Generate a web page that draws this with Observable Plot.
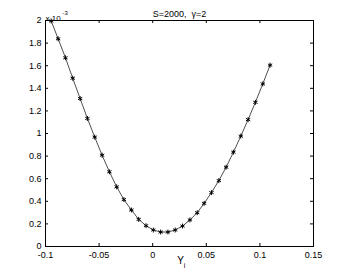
<!DOCTYPE html>
<html>
<head>
<meta charset="utf-8">
<script src="https://cdn.jsdelivr.net/npm/d3@7"></script>
<script src="https://cdn.jsdelivr.net/npm/@observablehq/plot@0.6"></script>
<style>
  html, body { margin: 0; padding: 0; background: #fff; }
  svg { font-family: "Liberation Sans", Arial, Helvetica, sans-serif; }
</style>
</head>
<body>
<div id="chart"></div>
<script>
// Data (y in units of 1e-3)
const yiValues = [-0.0947, -0.0882, -0.0814, -0.0746, -0.0677, -0.0609, -0.0541, -0.0472, -0.0404, -0.0336,
  -0.0269, -0.0199, -0.0131, -0.0062, 0.0006, 0.0074, 0.0142, 0.0210, 0.0278, 0.0347,
  0.0415, 0.0480, 0.0548, 0.0617, 0.0685, 0.0753, 0.0822, 0.0890, 0.0958, 0.1027, 0.1095];
const costValues = [1.996, 1.838, 1.670, 1.489, 1.309, 1.133, 0.968, 0.808, 0.661, 0.528,
  0.415, 0.323, 0.240, 0.184, 0.146, 0.128, 0.128, 0.146, 0.181, 0.235,
  0.299, 0.382, 0.477, 0.583, 0.702, 0.835, 0.977, 1.123, 1.276, 1.439, 1.605];
const xTicks = [-0.1, -0.05, 0, 0.05, 0.1, 0.15];
const yTicks = [0, 0.2, 0.4, 0.6, 0.8, 1, 1.2, 1.4, 1.6, 1.8, 2];
const titleText = "S=2000,  \u03b3=2";
const xLabelMain = "Y";
const xLabelSub = "i";
const yExpBase = "x 10";
const yExpPow = "-3";

const data = yiValues.map((x, i) => ({x, y: costValues[i]}));
const fmt = d => String(d);
const font = 9;

const W = 346, H = 277, ML = 45, MR = 33, MT = 20, MB = 31;
const innerW = W - ML - MR, innerH = H - MT - MB, tick = 3;

const chart = Plot.plot({
  width: W,
  height: H,
  marginLeft: ML,
  marginRight: MR,
  marginTop: MT,
  marginBottom: MB,
  style: {background: "#fff", color: "#000", fontSize: font + "px"},
  x: {domain: [-0.1, 0.15]},
  y: {domain: [0, 2]},
  marks: [
    // tick labels
    Plot.axisX(xTicks, {anchor: "bottom", tickSize: 0, tickPadding: 5, tickFormat: fmt, label: null, fontSize: font}),
    Plot.axisY(yTicks, {anchor: "left", tickSize: 0, tickPadding: 4, tickFormat: fmt, label: null, fontSize: font}),
    // inward ticks on all four sides
    Plot.tickX(xTicks, {x: d => d, insetTop: innerH - tick, stroke: "#000"}),
    Plot.tickX(xTicks, {x: d => d, insetBottom: innerH - tick, stroke: "#000"}),
    Plot.tickY(yTicks, {y: d => d, insetRight: innerW - tick, stroke: "#000"}),
    Plot.tickY(yTicks, {y: d => d, insetLeft: innerW - tick, stroke: "#000"}),
    Plot.frame({stroke: "#000", strokeWidth: 1}),
    Plot.line(data, {x: "x", y: "y", stroke: "#222", strokeWidth: 0.8}),
    Plot.dot(data, {x: "x", y: "y", symbol: "asterisk", r: 2.3, stroke: "#000", strokeWidth: 1}),
    Plot.text([titleText], {frameAnchor: "top", dy: -10, fontSize: font, fill: "#000"}),
    Plot.text([xLabelMain], {frameAnchor: "bottom", dy: 17, dx: 1, fontSize: font + 1, fill: "#000"}),
    Plot.text([xLabelSub], {frameAnchor: "bottom", dy: 21, dx: 5, fontSize: font - 2, fill: "#000"}),
    Plot.text([yExpBase], {frameAnchor: "top-left", dy: -5, dx: 0, textAnchor: "start", fontSize: font - 1, fill: "#000"}),
    Plot.text([yExpPow], {frameAnchor: "top-left", dy: -10, dx: 17, textAnchor: "start", fontSize: font - 3, fill: "#000"})
  ]
});
document.getElementById("chart").appendChild(chart);
</script>
</body>
</html>
